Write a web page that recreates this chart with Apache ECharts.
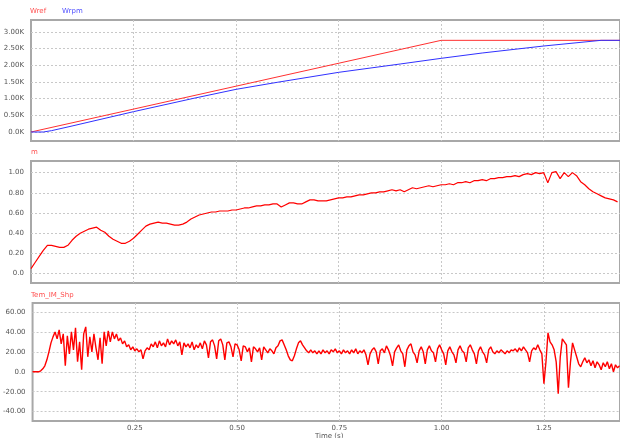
<!DOCTYPE html>
<html>
<head>
<meta charset="utf-8">
<script src="https://cdn.jsdelivr.net/npm/echarts@6/dist/echarts.min.js"></script>
<style>
  html, body { margin: 0; padding: 0; background: #fff; }
  #chart { width: 620px; height: 438px; }
</style>
</head>
<body>
<div id="chart"></div>
<script>
// speed plot (K rpm): [time, value]
var wref = [[0, 0], [1.0, 2.75], [1.436, 2.75]];
var wrpm = [[0, 0], [0.03, 0], [0.05, 0.04], [0.1, 0.18], [0.25, 0.61], [0.4, 1.02], [0.5, 1.28],
  [0.6, 1.49], [0.75, 1.79], [0.9, 2.04], [1.0, 2.21], [1.1, 2.37], [1.25, 2.58], [1.39, 2.75], [1.436, 2.75]];

// m, sampled every 0.01 s
var mStep = 0.01;
var mVals = [
  0.05, 0.11, 0.17, 0.23, 0.28, 0.28, 0.27, 0.26, 0.26, 0.28,
  0.33, 0.37, 0.40, 0.42, 0.44, 0.45, 0.46, 0.43, 0.41, 0.37,
  0.34, 0.32, 0.30, 0.30, 0.32, 0.35, 0.39, 0.43, 0.47, 0.49,
  0.50, 0.51, 0.50, 0.50, 0.49, 0.48, 0.48, 0.49, 0.51, 0.54,
  0.56, 0.58, 0.59, 0.60, 0.61, 0.61, 0.62, 0.62, 0.62, 0.63,
  0.63, 0.64, 0.65, 0.65, 0.66, 0.67, 0.67, 0.68, 0.68, 0.69,
  0.69, 0.66, 0.68, 0.70, 0.70, 0.69, 0.69, 0.71, 0.73, 0.73,
  0.72, 0.72, 0.72, 0.73, 0.74, 0.75, 0.75, 0.76, 0.76, 0.77,
  0.78, 0.78, 0.79, 0.80, 0.80, 0.81, 0.81, 0.82, 0.83, 0.82,
  0.83, 0.81, 0.83, 0.85, 0.84, 0.85, 0.86, 0.87, 0.86, 0.87,
  0.88, 0.88, 0.89, 0.88, 0.90, 0.90, 0.91, 0.90, 0.92, 0.92,
  0.93, 0.92, 0.94, 0.94, 0.95, 0.95, 0.96, 0.96, 0.97, 0.96,
  0.98, 0.99, 0.98, 1.00, 0.99, 1.00, 0.90, 1.00, 1.01, 0.94,
  1.00, 0.96, 1.00, 0.97, 0.91, 0.88, 0.84, 0.81, 0.79, 0.77,
  0.75, 0.74, 0.73, 0.71
];

// Tem_IM_Shp, sampled every 0.005 s
var temStep = 0.005;
var temVals = [
  0, 0, 0, 0, 1, 3, 6, 12, 20, 29,
  35, 40, 33, 42, 28, 38, 6, 36, 18, 40,
  22, 44, 10, 30, 2, 38, 45, 15, 35, 20,
  38, 24, 12, 34, 8, 40, 26, 41, 30, 40,
  33, 38, 31, 34, 28, 31, 25, 27, 22, 25,
  21, 23, 20, 22, 13, 21, 24, 22, 28, 25,
  30, 24, 31, 26, 29, 25, 33, 27, 31, 28,
  32, 26, 30, 17, 29, 25, 28, 24, 30, 22,
  27, 24, 29, 23, 31, 27, 14, 30, 32, 26,
  13, 31, 33, 27, 12, 29, 30, 25, 15, 28,
  27, 22, 11, 26, 25, 20, 24, 10, 25, 23,
  20, 24, 12, 25, 22, 19, 23, 21, 18, 24,
  26, 31, 32, 27, 22, 16, 12, 11, 16, 23,
  29, 31, 27, 24, 21, 19, 22, 19, 21, 18,
  21, 18, 22, 19, 21, 18, 22, 20, 23, 19,
  21, 18, 22, 19, 21, 18, 22, 19, 23, 18,
  21, 19, 22, 17, 7, 18, 22, 24, 20, 8,
  21, 23, 19, 26, 22, 16, 6, 20, 24, 27,
  21, 18, 5, 22, 26, 28, 20, 17, 9, 21,
  25, 20, 8, 22, 26, 21, 19, 10, 23, 27,
  22, 18, 7, 21, 25, 20, 17, 9, 22, 26,
  21, 19, 10, 24, 27, 22, 18, 8, 21, 25,
  20, 17, 9, 22, 25, 20, 18, 21, 19, 22,
  20, 18, 21, 19, 22, 21, 23, 20, 24, 21,
  25, 22, 19, 10, 21, 24, 22, 27, 22, 18,
  -12, 10, 39, 30, 27, 22, 10, -22, 15, 33,
  30, 27, -16, 10, 29, 22, 15, 8, 5, 10,
  14, 9, 12, 6, 11, 4, 10, 7, 2, 9,
  5, 10, 3, 8, 0, 7, 4, 6
];

var timeTicks = [0.25, 0.5, 0.75, 1.0, 1.25];
var speedTicks = [0, 0.5, 1.0, 1.5, 2.0, 2.5, 3.0];
var mTicks = [0, 0.2, 0.4, 0.6, 0.8, 1.0];
var temTicks = [-40, -20, 0, 20, 40, 60];

function sampled(vals, step) {
  return vals.map(function (v, i) { return [+(i * step).toFixed(4), v]; });
}

var labelFont = { fontFamily: 'DejaVu Sans', fontSize: 7, color: '#555' };
var gridLine = { show: true, lineStyle: { color: '#c8c8c8', type: [2, 2], width: 1 } };

function fmt2(v) {
  return v === 0 ? '0.0' : v.toFixed(2);
}

function xAxis(idx, showLabels) {
  return {
    type: 'value', gridIndex: idx, min: 0, max: 1.436,
    axisLine: { show: false }, axisTick: { show: false, customValues: timeTicks },
    axisLabel: Object.assign({ show: showLabels, customValues: timeTicks, margin: 4,
      formatter: function (v) { return v.toFixed(2); } }, labelFont),
    splitLine: gridLine
  };
}

function yAxis(idx, min, max, ticks, formatter) {
  return {
    type: 'value', gridIndex: idx, min: min, max: max,
    axisLine: { show: false }, axisTick: { show: false, customValues: ticks },
    axisLabel: Object.assign({ customValues: ticks, margin: 7, formatter: formatter }, labelFont),
    splitLine: gridLine
  };
}

var chart = echarts.init(document.getElementById('chart'));
var gridStyle = { show: true, borderColor: '#a8a8a8', borderWidth: 2, left: 31, right: -3 };

chart.setOption({
  backgroundColor: '#fff',
  animation: false,
  grid: [
    Object.assign({ top: 20, height: 121 }, gridStyle),
    Object.assign({ top: 161, height: 122 }, gridStyle),
    Object.assign({ top: 303, height: 118 }, gridStyle)
  ],
  xAxis: [xAxis(0, false), xAxis(1, false), xAxis(2, true)],
  yAxis: [
    yAxis(0, -0.27, 3.36, speedTicks, function (v) { return (v === 0 ? '0.0' : v.toFixed(2)) + 'K'; }),
    yAxis(1, -0.093, 1.115, mTicks, fmt2),
    yAxis(2, -49.4, 69, temTicks, fmt2)
  ],
  graphic: [
    { type: 'text', left: 30, top: 8, style: { text: 'Wref', fill: '#ff5050', font: '7px DejaVu Sans' } },
    { type: 'text', left: 62, top: 8, style: { text: 'Wrpm', fill: '#5050ff', font: '7px DejaVu Sans' } },
    { type: 'text', left: 31, top: 149, style: { text: 'm', fill: '#ff5050', font: '7px DejaVu Sans' } },
    { type: 'text', left: 31, top: 292, style: { text: 'Tem_IM_Shp', fill: '#ff5050', font: '7px DejaVu Sans' } },
    { type: 'text', left: 315, top: 433, style: { text: 'Time (s)', fill: '#555', font: '7px DejaVu Sans' } }
  ],
  series: [
    { name: 'Wref', type: 'line', xAxisIndex: 0, yAxisIndex: 0, data: wref, showSymbol: false,
      lineStyle: { color: '#ff3030', width: 1 } },
    { name: 'Wrpm', type: 'line', xAxisIndex: 0, yAxisIndex: 0, data: wrpm, showSymbol: false,
      lineStyle: { color: '#3030ff', width: 1 } },
    { name: 'm', type: 'line', xAxisIndex: 1, yAxisIndex: 1, data: sampled(mVals, mStep), showSymbol: false,
      lineStyle: { color: '#ff0000', width: 1.2 } },
    { name: 'Tem_IM_Shp', type: 'line', xAxisIndex: 2, yAxisIndex: 2, data: sampled(temVals, temStep), showSymbol: false,
      lineStyle: { color: '#ff0000', width: 1.4 } }
  ]
});
</script>
</body>
</html>
